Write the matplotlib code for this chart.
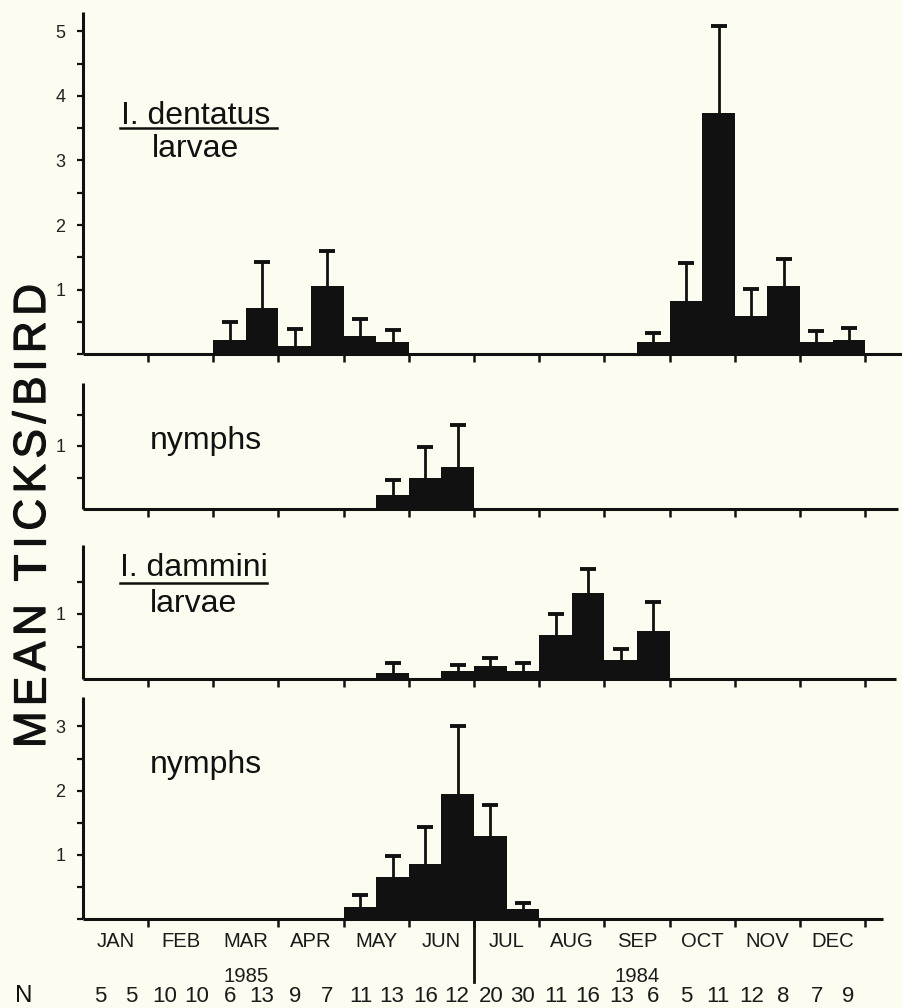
import numpy as np
import matplotlib
matplotlib.use('Agg')
import matplotlib.pyplot as plt
import matplotlib.transforms as mtransforms
from matplotlib import font_manager
from matplotlib.font_manager import FontProperties
from matplotlib.textpath import TextPath
from matplotlib.patches import PathPatch
from matplotlib.lines import Line2D

W, H = 902, 1008
BG = '#fcfcf1'
INK = '#111111'

names = {f.name for f in font_manager.fontManager.ttflist}
SANS = 'Liberation Sans'
NARROW = 'Liberation Sans Narrow' if 'Liberation Sans Narrow' in names else SANS

# --- data: 24 half-month bins, JAN(1st half) ... DEC(2nd half) ---
months = ['JAN', 'FEB', 'MAR', 'APR', 'MAY', 'JUN',
          'JUL', 'AUG', 'SEP', 'OCT', 'NOV', 'DEC']
n_birds = [5, 5, 10, 10, 6, 13, 9, 7, 11, 13, 16, 12,
           20, 30, 11, 16, 13, 6, 5, 11, 12, 8, 7, 9]

dent_larvae = [0, 0, 0, 0, 0.22, 0.72, 0.13, 1.05, 0.28, 0.18, 0, 0,
               0, 0, 0, 0, 0, 0.19, 0.82, 3.73, 0.59, 1.05, 0.19, 0.22]
dent_larvae_se = [0, 0, 0, 0, 0.28, 0.71, 0.26, 0.54, 0.26, 0.19, 0, 0,
                  0, 0, 0, 0, 0, 0.14, 0.59, 1.36, 0.42, 0.42, 0.17, 0.18]

dent_nymphs = [0, 0, 0, 0, 0, 0, 0, 0, 0, 0.22, 0.50, 0.66,
               0, 0, 0, 0, 0, 0, 0, 0, 0, 0, 0, 0]
dent_nymphs_se = [0, 0, 0, 0, 0, 0, 0, 0, 0, 0.24, 0.48, 0.67,
                  0, 0, 0, 0, 0, 0, 0, 0, 0, 0, 0, 0]

damm_larvae = [0, 0, 0, 0, 0, 0, 0, 0, 0, 0.10, 0, 0.12,
               0.20, 0.13, 0.68, 1.33, 0.29, 0.74, 0, 0, 0, 0, 0, 0]
damm_larvae_se = [0, 0, 0, 0, 0, 0, 0, 0, 0, 0.14, 0, 0.10,
                  0.12, 0.11, 0.32, 0.36, 0.17, 0.45, 0, 0, 0, 0, 0, 0]

damm_nymphs = [0, 0, 0, 0, 0, 0, 0, 0, 0.19, 0.66, 0.86, 1.95,
               1.29, 0.15, 0, 0, 0, 0, 0, 0, 0, 0, 0, 0]
damm_nymphs_se = [0, 0, 0, 0, 0, 0, 0, 0, 0.19, 0.32, 0.57, 1.06,
                  0.49, 0.10, 0, 0, 0, 0, 0, 0, 0, 0, 0, 0]

# layout (pixels): x=0 (JAN start) at X0, one month = MW px
X0, MW = 82.8, 65.2

panels = [
    # means, se, baseline px, px per unit, ymax, xmax, labelled ticks, minor ticks, xticks
    (dent_larvae, dent_larvae_se, 354, 64.5, 5.30, 12.56,
     [1, 2, 3, 4, 5], [0, 0.5, 1.5, 2.5, 3.5, 4.5], list(range(1, 13))),
    (dent_nymphs, dent_nymphs_se, 509, 63.0, 2.00, 12.50,
     [1], [0.5, 1.5], list(range(1, 13))),
    (damm_larvae, damm_larvae_se, 679, 65.0, 2.06, 12.48,
     [1], [0.5, 1.5], list(range(1, 13))),
    (damm_nymphs, damm_nymphs_se, 919, 64.2, 3.46, 12.27,
     [1, 2, 3], [0, 0.5, 1.5, 2.5], [1] + list(range(3, 13))),
]

fig = plt.figure(figsize=(W / 100, H / 100), dpi=100, facecolor=BG)

edges = np.arange(24) * 0.5
axes = []
for means, se, base, unit, ymax, xmax, major, minor, xt in panels:
    rect = [X0 / W, 1 - base / H, xmax * MW / W, ymax * unit / H]
    ax = fig.add_axes(rect)
    ax.set_facecolor('none')
    ax.set_xlim(0, xmax)
    ax.set_ylim(0, ymax)
    means = np.array(means)
    se = np.array(se)
    on = means > 0
    xc = edges[on] + 0.25
    ax.bar(edges[on], means[on], width=0.5, align='edge', color=INK,
           linewidth=0, zorder=2)
    # upper error bars only: stem + cap
    ax.vlines(xc, means[on], means[on] + se[on], color=INK, linewidth=2.0,
              zorder=3)
    ax.plot(xc, means[on] + se[on], linestyle='none', marker='_',
            markersize=12, markeredgewidth=2.8, color=INK, zorder=3)
    for s in ['top', 'right']:
        ax.spines[s].set_visible(False)
    for s in ['left', 'bottom']:
        ax.spines[s].set_linewidth(2.2)
        ax.spines[s].set_color(INK)
        ax.spines[s].set_capstyle('butt')
    ax.set_yticks(major)
    ax.set_yticklabels([str(v) for v in major])
    ax.set_yticks(minor, minor=True)
    ax.set_xticks(xt)
    ax.set_xticklabels([])
    ax.tick_params(axis='y', which='both', direction='out', length=4.5,
                   width=1.6, color=INK, pad=8, labelsize=13,
                   labelcolor='#222222')
    ax.tick_params(axis='x', which='both', direction='out', length=5.5,
                   width=1.8, color=INK)
    for lab in ax.get_yticklabels():
        lab.set_fontfamily(SANS)
    axes.append(ax)

ax4 = axes[3]

def fy(py):
    return 1 - py / H

# month labels, year labels and N row under the bottom panel
bt = mtransforms.blended_transform_factory(ax4.transData, fig.transFigure)
for i, m in enumerate(months):
    fig.text(i + 0.5, fy(946.7), m, transform=bt, ha='center', va='baseline',
             fontsize=14.6, family=SANS, color='#1a1a1a')
fig.text(2.5, fy(982), '1985', transform=bt, ha='center', va='baseline',
         fontsize=14.6, family=SANS, color='#1a1a1a')
fig.text(8.5, fy(982), '1984', transform=bt, ha='center', va='baseline',
         fontsize=14.6, family=SANS, color='#1a1a1a')
for i, n in enumerate(n_birds):
    xm = i // 2 + 0.5 + (-0.24 if i % 2 == 0 else 0.24)
    fig.text(xm, fy(1002), str(n), transform=bt, ha='center', va='baseline',
             fontsize=16, family=NARROW, color='#1a1a1a')
fig.text(24 / W, fy(1002), 'N', ha='center', va='baseline', fontsize=17.5,
         family=SANS, color=INK)

# divider between 1985 and 1984
fig.add_artist(Line2D([6, 6], [fy(919), fy(982)], transform=bt, color=INK,
                      linewidth=2.0))

# panel labels
def label(x, y, s, **kw):
    fig.text(x / W, fy(y), s, ha=kw.pop('ha', 'left'), va='baseline',
             fontsize=23, family=SANS, color=INK, **kw)

def underline(x0, x1, y):
    fig.add_artist(Line2D([x0 / W, x1 / W], [fy(y), fy(y)],
                          transform=fig.transFigure, color=INK, linewidth=1.8))

label(121, 124, 'I. dentatus')
underline(120, 277, 128)
label(195, 157, 'larvae', ha='center')
label(150, 449, 'nymphs')
label(120, 576.5, 'I. dammini')
underline(120, 267, 582.5)
label(194, 612.5, 'larvae', ha='center')
label(150, 773, 'nymphs')

# big y label: letter-spaced, each letter set as a path
ylab = 'MEAN TICKS/BIRD'
fp = FontProperties(family=SANS)
top_px, bot_px, right_px, cap_px = 284, 748, 45, 31
size = 44

def tw(s):
    return TextPath((0, 0), s, size=size, prop=fp).get_extents().width

hh = tw('HH')
adv = np.array([tw('H' + c + 'H') - hh for c in ylab])
lead = TextPath((0, 0), 'H', size=size, prop=fp).get_extents()
track = (bot_px - top_px - adv.sum()) / (len(ylab) - 1)
sy = cap_px / lead.height
pos = 0.0
for c, a in zip(ylab, adv):
    if c != ' ':
        g = TextPath((0, 0), c, size=size, prop=fp)
        tr = (mtransforms.Affine2D().scale(1.0, sy).translate(pos, 0)
              .rotate_deg(90).translate(right_px, H - bot_px)
              .scale(1 / W, 1 / H))
        fig.add_artist(PathPatch(g, transform=tr + fig.transFigure,
                                 facecolor=INK, edgecolor=INK, linewidth=0.9))
    pos += a + track

fig.savefig('out.png', dpi=100, facecolor=BG)
